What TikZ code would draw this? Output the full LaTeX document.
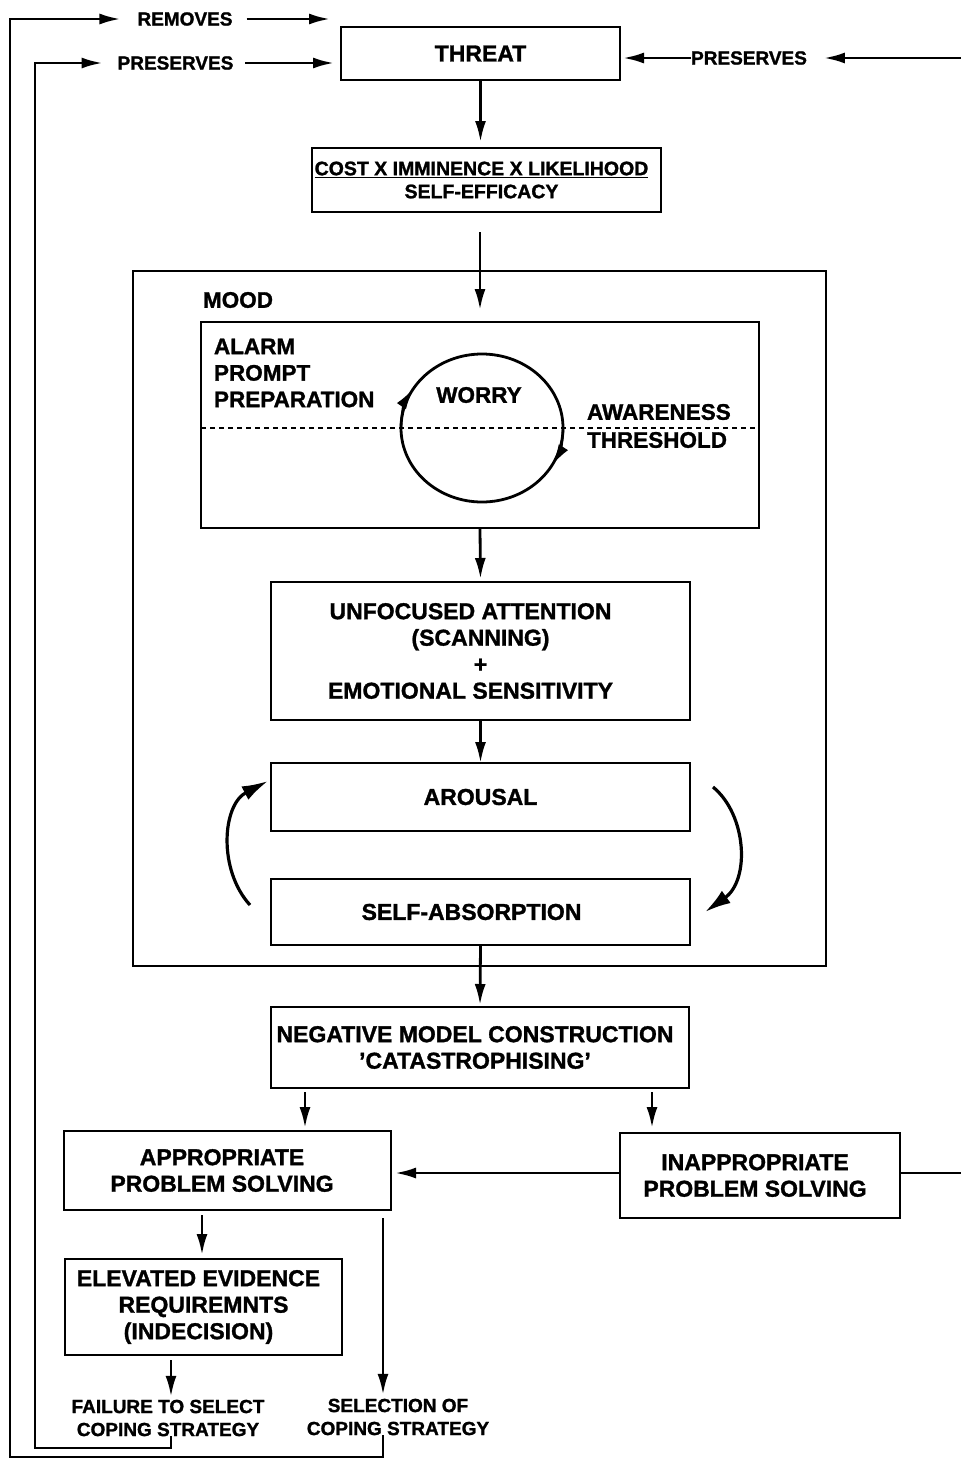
\documentclass[tikz,border=0pt]{standalone}
\usepackage{fontspec}
\setmainfont{Liberation Sans}[BoldFeatures={FakeBold=1.3}]
\usetikzlibrary{arrows.meta}
\begin{document}
\begin{tikzpicture}[x=1pt,y=-1pt,
  box/.style={draw, line width=2.8pt, inner sep=0pt, outer sep=0pt, align=center,
    font=\bfseries\fontsize{23}{26.5}\selectfont},
  lbl/.style={inner sep=0pt, outer sep=0pt, align=center, font=\bfseries\fontsize{19}{23}\selectfont},
  big/.style={inner sep=0pt, outer sep=0pt, align=left, font=\bfseries\fontsize{22.5}{26.5}\selectfont},
  arr/.style={-{Latex[length=21pt,width=11pt]}, line width=2.8pt},
  plain/.style={line width=2.8pt},
  circarr/.style={-{Latex[length=21pt,width=11pt]}, line width=2.4pt},
  curvarr/.style={-{Latex[length=26pt,width=15pt]}, line width=3.2pt}]
\useasboundingbox (0,0) rectangle (961,1459);

% boxes
\node[box, minimum width=279pt, minimum height=53pt] (threat) at (480.5,53.5) {THREAT};
\node[box, minimum width=349pt, minimum height=64pt, font=\bfseries\fontsize{19.5}{23}\selectfont] (cost) at (486.5,180)
  {\underline{COST X IMMINENCE X LIKELIHOOD}\hspace*{10pt}\\SELF-EFFICACY\hspace*{10pt}};
\node[box, minimum width=693pt, minimum height=695pt] (mood) at (479.5,618.5) {};
\node[big] (moodlbl) at (238,300) {MOOD};
\node[box, minimum width=558pt, minimum height=206pt] (inner) at (480,425) {};
\node[box, minimum width=419pt, minimum height=138pt] (unf) at (480.5,651)
  {UNFOCUSED ATTENTION\hspace*{20pt}\\(SCANNING)\hspace*{20pt}\\+\hspace*{20pt}\\EMOTIONAL SENSITIVITY\hspace*{20pt}};
\node[box, minimum width=419pt, minimum height=68pt] (arousal) at (480.5,797) {AROUSAL};
\node[box, minimum width=419pt, minimum height=66pt] (selfabs) at (480.5,912) {SELF-ABSORPTION\hspace*{18pt}};
\node[box, minimum width=418pt, minimum height=81pt] (nmc) at (480,1047.5)
  {NEGATIVE MODEL CONSTRUCTION\hspace*{10pt}\\'CATASTROPHISING'\hspace*{10pt}};
\node[box, minimum width=327pt, minimum height=79pt] (aps) at (227.5,1170.5)
  {APPROPRIATE\hspace*{11pt}\\PROBLEM SOLVING\hspace*{11pt}};
\node[box, minimum width=280pt, minimum height=85pt] (ips) at (760,1175.5)
  {INAPPROPRIATE\hspace*{10pt}\\PROBLEM SOLVING\hspace*{10pt}};
\node[box, minimum width=277pt, minimum height=96pt] (eer) at (203.5,1307)
  {ELEVATED EVIDENCE\hspace*{10pt}\\REQUIREMNTS\hspace*{10pt}\\(INDECISION)\hspace*{10pt}};

% texts in the worry box
\node[big, anchor=west] (alarm) at (214,373) {ALARM\\PROMPT\\PREPARATION};
\node[big] (worry) at (479,395) {WORRY};
\node[big, anchor=west, font=\bfseries\fontsize{22.5}{28}\selectfont] (aware) at (587,426) {AWARENESS\\THRESHOLD};
\coordinate (wc) at (482,428);
\draw[plain] (wc) ellipse[x radius=81, y radius=74];
\draw[dash pattern=on 5pt off 4pt, line width=2pt] ([yshift=-3pt]inner.west) -- ([yshift=-3pt]inner.east);
\draw[circarr] ([shift={(180:81 and 74)}]wc) arc[start angle=180, end angle=212, x radius=81, y radius=74];
\draw[circarr] ([shift={(0:81 and 74)}]wc) arc[start angle=0, end angle=30, x radius=81, y radius=74];

% labels
\node[lbl] (removes) at (185,19) {REMOVES};
\node[lbl] (presL) at (175.5,63) {PRESERVES};
\node[lbl] (presR) at (749,58) {PRESERVES};
\node[lbl] (failure) at (168,1418) {FAILURE TO SELECT\\COPING STRATEGY};
\node[lbl] (selection) at (398,1417) {SELECTION OF\\COPING STRATEGY};

% coordinates for loose ends and corners
\coordinate (remEnd) at (330,19);
\coordinate (oBL) at (10,1457);
\coordinate (oTL) at (10,19);
\coordinate (iBL) at (35,1448);
\coordinate (iTL) at (35,63);
\coordinate (rTop) at (961,58);
\coordinate (ipsOut) at (961,1173);
\path (inner.north |- cost.south) ++(0,20) coordinate (costOut);
\coordinate (ipsW) at ([yshift=2.5pt]ips.west);

% main flow
\draw[arr, shorten >=6pt] (threat.south) -- (threat.south |- cost.north);
\draw[arr, shorten >=12pt] (costOut) -- (inner.north);
\draw[arr, shorten >=3pt] (inner.south) -- (unf.north);
\draw[arr] (unf.south) -- (arousal.north);
\draw[arr, shorten >=2pt] (selfabs.south) -- (nmc.north);
\draw[arr, shorten <=4pt, shorten >=3pt] ([xshift=-175pt]nmc.south) -- ([xshift=77.5pt]aps.north);
\draw[arr, shorten <=4pt, shorten >=5pt] ([xshift=172pt]nmc.south) -- ([xshift=-108pt]ips.north);
\draw[arr, shorten >=4pt] (ipsW) -- (aps.east |- ipsW);
\draw[plain] ([yshift=2.5pt]ips.east) -- (ipsOut);
\draw[arr, shorten <=5pt, shorten >=4pt] ([xshift=-25.5pt]aps.south) -- ([xshift=-1.5pt]eer.north);
\draw[arr, shorten <=5pt, shorten >=3pt] ([xshift=-32.5pt]eer.south) -- ([xshift=3pt]failure.north);
\draw[arr, shorten <=8pt, shorten >=4pt] ([xshift=155.5pt]aps.south) -- ([xshift=-15pt]selection.north);

% arousal / self-absorption cycle
\draw[curvarr] (250,905) .. controls (218,870) and (222,805) .. (268,781);
\draw[curvarr] (713,787) .. controls (747,815) and (750,880) .. (705,912);

% feedback loops
\draw[arr, shorten >=17pt] ([xshift=-15pt]selection.south) |- (oBL) -- (oTL) -- (removes.west);
\draw[arr, shorten <=14pt] (removes.east) -- (remEnd);
\draw[arr, shorten >=15pt] ([xshift=3pt]failure.south) |- (iBL) -- (iTL) -- (presL.west);
\draw[arr, shorten <=12pt, shorten >=7pt] (presL.east) -- ([yshift=-9.5pt]threat.west);
\draw[arr, shorten >=17pt] (rTop) -- (presR.east);
\draw[arr, shorten >=3pt] (presR.west) -- ([yshift=-4.5pt]threat.east);
\end{tikzpicture}
\end{document}
